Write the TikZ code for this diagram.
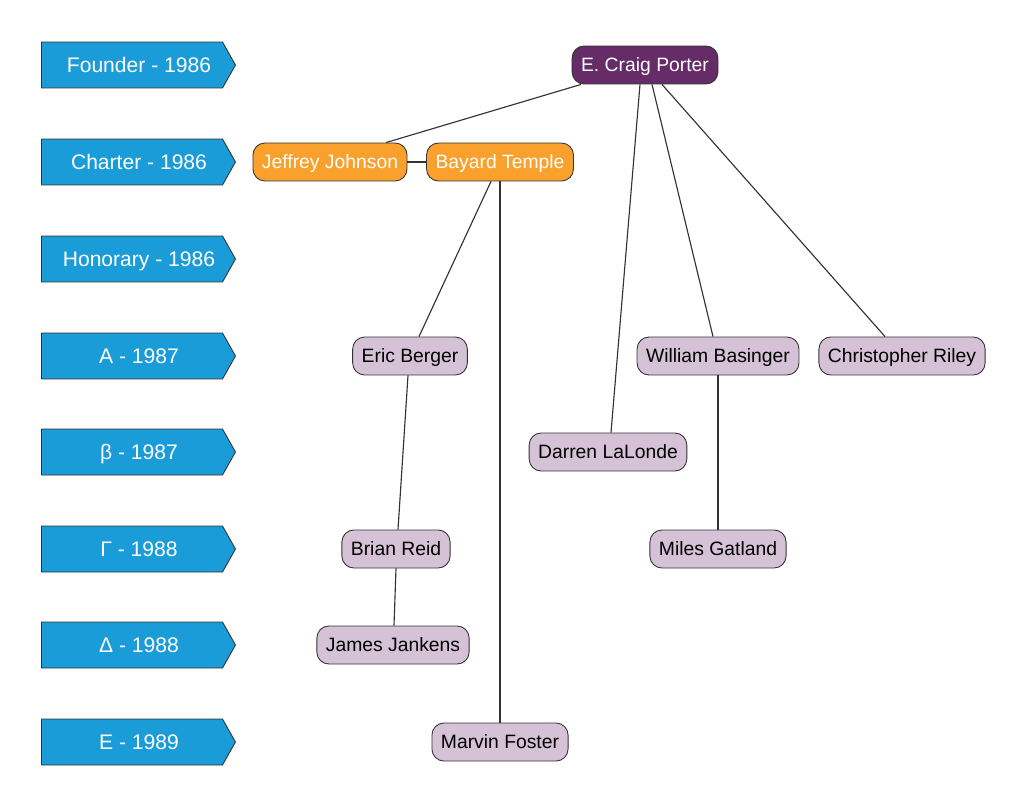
\documentclass[tikz,border=0pt]{standalone}
\usepackage{fontspec}
\setmainfont{Liberation Sans}
\usetikzlibrary{shapes.symbols,calc}
\definecolor{treeBlue}{HTML}{1A9CD8}
\definecolor{treePlum}{HTML}{652C68}
\definecolor{treeOrange}{HTML}{F9A12C}
\definecolor{treeLilac}{HTML}{D5C2D7}
\definecolor{treeEdge}{HTML}{333333}
\tikzset{
  year/.style={shape=signal,signal to=east,signal pointer angle=121,draw=treeEdge,
               fill=treeBlue,text=white,font=\fontsize{12}{14}\selectfont,
               minimum width=3.88cm,minimum height=0.92cm,inner sep=0pt,line width=0.5pt,
               text height=1.0em,text depth=0.16em,
               execute at begin node={\hspace*{0.28cm}}},
  member/.style={rounded corners=2.4mm,draw=treeEdge,fill=treeLilac,text=black,
                 font=\fontsize{11}{13}\selectfont,inner xsep=0.18cm,inner ysep=0pt,
                 minimum height=0.76cm,line width=0.5pt,
                 text height=0.95em,text depth=0.2em},
  founder/.style={member,fill=treePlum,text=white},
  charter/.style={member,fill=treeOrange,text=white},
  link/.style={draw=treeEdge,line width=0.65pt},
}

\begin{document}
\begin{tikzpicture}[x=0.02cm,y=-0.02cm]
    \useasboundingbox (0,0) rectangle (1024,811);

    % class column
    \node[year] at (132,65)  (yfound) {Founder - 1986};
    \node[year] at (132,162) (ychart) {Charter - 1986};
    \node[year] at (132,259) (yhon)   {Honorary - 1986};
    \node[year] at (132,356) (ya)     {A - 1987};
    \node[year] at (132,452) (yb)     {β - 1987};
    \node[year] at (132,549) (yg)     {Γ - 1988};
    \node[year] at (132,645) (yd)     {Δ - 1988};
    \node[year] at (132,742) (ye)     {E - 1989};

    % members
    \node[founder] at (645,65)  (porter) {E. Craig Porter};
    \node[charter] at (330,162) (jj)     {Jeffrey Johnson};
    \node[charter] at (500,162) (bt)     {Bayard Temple};
    \node[member]  at (410,356) (eb)     {Eric Berger};
    \node[member]  at (718,356) (wb)     {William Basinger};
    \node[member]  at (902,356) (cr)     {Christopher Riley};
    \node[member]  at (608,452) (dl)     {Darren LaLonde};
    \node[member]  at (396,549) (brd)    {Brian Reid};
    \node[member]  at (718,549) (mg)     {Miles Gatland};
    \node[member]  at (393,645) (jk)     {James Jankens};
    \node[member]  at (500,742) (mf)     {Marvin Foster};

    \draw[link] ($(porter.south)+(-64,0)$) -- ($(jj.north)+(56,0)$);
    \draw[link] (jj.east) -- (bt.west);
    \draw[link] ($(bt.south)+(-9,0)$) -- ($(eb.north)+(9,0)$);
    \draw[link] (bt.south) -- (mf.north);
    \draw[link] ($(porter.south)+(-5,0)$) -- ($(dl.north)+(3,0)$);
    \draw[link] ($(porter.south)+(7,0)$) -- ($(wb.north)+(-5,0)$);
    \draw[link] ($(porter.south)+(17,0)$) -- ($(cr.north)+(-17,0)$);
    \draw[link] ($(eb.south)+(-2,0)$) -- ($(brd.north)+(2,0)$);
    \draw[link] (wb.south) -- (mg.north);
    \draw[link] (brd.south) -- ($(jk.north)+(1,0)$);
\end{tikzpicture}
\end{document}
